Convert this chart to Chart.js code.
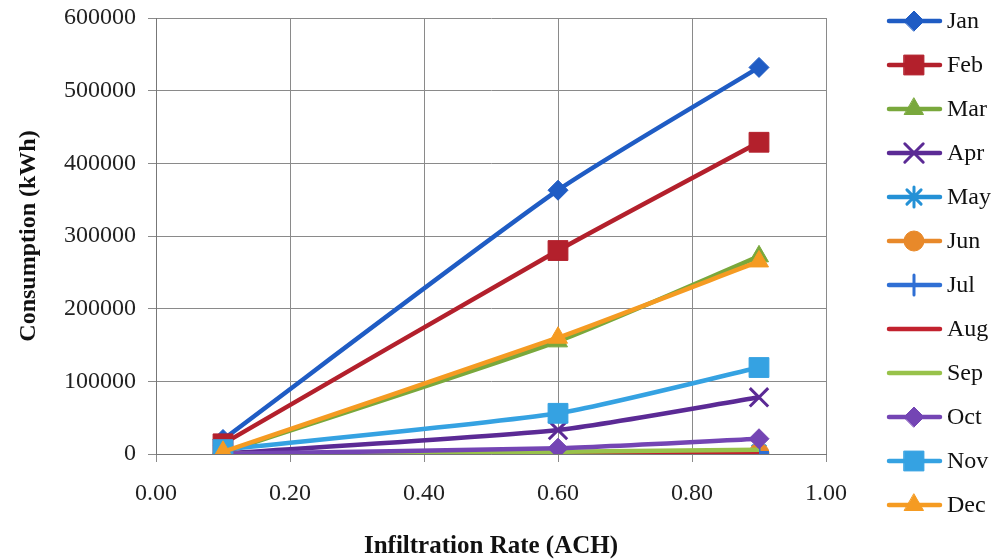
<!DOCTYPE html>
<html>
<head>
<meta charset="utf-8">
<script src="https://cdn.jsdelivr.net/npm/chart.js@4.4.1/dist/chart.umd.min.js"></script>
<style>
  html, body { margin: 0; padding: 0; background: #ffffff; }
  #wrap { width: 1001px; height: 559px; }
</style>
</head>
<body>
<div id="wrap"><canvas id="c" width="1001" height="559"></canvas></div>
<script>
// Infiltration rates (ACH) on the x axis
const rates = [0.1, 0.6, 0.9];

// Monthly consumption (kWh) at each infiltration rate
const months = ['Jan', 'Feb', 'Mar', 'Apr', 'May', 'Jun', 'Jul', 'Aug', 'Sep', 'Oct', 'Nov', 'Dec'];
const jan = [20000, 363000, 532000];
const feb = [14000, 280000, 429000];
const mar = [2000, 155000, 272000];
const apr = [500, 33000, 78000];
const may = [0, 2000, 3000];
const jun = [0, 500, 1000];
const jul = [0, 1000, 2000];
const aug = [0, 1500, 3000];
const sep = [0, 3000, 6000];
const oct = [300, 8000, 21000];
const nov = [6000, 56000, 119000];
const dec = [3000, 160000, 265000];

// Axis ticks
const xTicks = [0.0, 0.2, 0.4, 0.6, 0.8, 1.0];
const yTicks = [0, 100000, 200000, 300000, 400000, 500000, 600000];

const seriesValues = [jan, feb, mar, apr, may, jun, jul, aug, sep, oct, nov, dec];
const colors = ['#1f5cc4', '#b3202c', '#79a83c', '#5b2a95', '#2491d6', '#e8892a',
                '#2f6fd4', '#c2222e', '#98c24a', '#7445b4', '#35a2e2', '#f59b22'];
const markers = ['rectRot', 'rect', 'triangle', 'crossRot', 'star', 'circle',
                 'cross', false, false, 'rectRot', 'rect', 'triangle'];
const markerSize = [10, 14, 11, 13, 10, 10, 10, 0, 0, 10, 14, 11];

const serif = "'Liberation Serif', 'DejaVu Serif', serif";

const datasets = months.map((m, i) => ({
  label: m,
  data: rates.map((r, k) => ({ x: r, y: seriesValues[i][k] })),
  borderColor: colors[i],
  backgroundColor: colors[i],
  borderWidth: 4.5,
  pointStyle: markers[i],
  pointRadius: markerSize[i],
  pointBorderWidth: (markers[i] === 'crossRot' || markers[i] === 'star' || markers[i] === 'cross') ? 3 : 1,
  pointBorderColor: colors[i],
  pointBackgroundColor: colors[i],
  tension: 0.2,
  order: months.length - i
}));

// Legend: line segment with the series marker, label to the right
const sideLegend = {
  id: 'sideLegend',
  afterDraw(chart) {
    const ctx = chart.ctx;
    ctx.save();
    months.forEach((m, i) => {
      const y = 21 + i * 44;
      ctx.strokeStyle = colors[i];
      ctx.lineWidth = 4.5;
      ctx.lineCap = 'round';
      ctx.beginPath();
      ctx.moveTo(889, y);
      ctx.lineTo(940, y);
      ctx.stroke();
      if (markers[i]) {
        ctx.fillStyle = colors[i];
        ctx.strokeStyle = colors[i];
        ctx.lineWidth = datasets[i].pointBorderWidth;
        Chart.helpers.drawPoint(ctx, { pointStyle: markers[i], radius: markerSize[i], rotation: 0, borderWidth: datasets[i].pointBorderWidth }, 914, y);
      }
      ctx.fillStyle = '#111111';
      ctx.font = '24px ' + serif;
      ctx.textAlign = 'left';
      ctx.textBaseline = 'middle';
      ctx.fillText(m, 947, y + 1);
    });
    ctx.restore();
  }
};

new Chart(document.getElementById('c'), {
  type: 'line',
  data: { datasets },
  options: {
    responsive: false,
    animation: false,
    layout: { padding: { left: 0, right: 175, top: 18, bottom: 0 } },
    plugins: { legend: { display: false }, tooltip: { enabled: false } },
    scales: {
      x: {
        type: 'linear',
        min: 0, max: 1,
        afterBuildTicks(axis) { axis.ticks = xTicks.map(v => ({ value: v })); },
        afterFit(axis) { axis.height = 105; axis.paddingLeft = 0; axis.paddingRight = 0; },
        ticks: {
          callback: v => Number(v).toFixed(2),
          color: '#222222',
          font: { family: serif, size: 24 },
          padding: 17,
          maxRotation: 0
        },
        grid: { color: '#8a8a8a', lineWidth: 1, tickLength: 8, tickColor: '#8a8a8a' },
        border: { color: '#777777', width: 1 },
        title: {
          display: true,
          text: 'Infiltration Rate (ACH)',
          color: '#111111',
          font: { family: serif, size: 25, weight: 'bold' },
          padding: { top: 0, bottom: -3 }
        }
      },
      y: {
        type: 'linear',
        min: 0, max: 600000,
        afterBuildTicks(axis) { axis.ticks = yTicks.map(v => ({ value: v })); },
        afterFit(axis) { axis.width = 156; axis.paddingTop = 0; axis.paddingBottom = 0; },
        ticks: {
          callback: v => String(v),
          color: '#222222',
          font: { family: serif, size: 24 },
          padding: 12
        },
        grid: { color: '#8a8a8a', lineWidth: 1, tickLength: 8, tickColor: '#8a8a8a' },
        border: { color: '#777777', width: 1 },
        title: {
          display: true,
          text: 'Consumption (kWh)',
          color: '#111111',
          font: { family: serif, size: 24, weight: 'bold' },
          padding: { top: 14, bottom: 0 }
        }
      }
    }
  },
  plugins: [sideLegend]
});
</script>
</body>
</html>
